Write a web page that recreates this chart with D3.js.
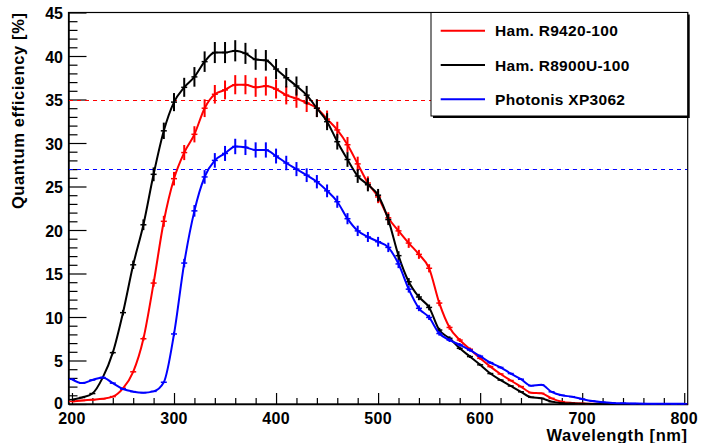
<!DOCTYPE html>
<html>
<head>
<meta charset="utf-8">
<script src="https://cdn.jsdelivr.net/npm/d3@7"></script>
<style>
body { margin:0; background:#fff; }
text { font-family:"Liberation Sans", Arial, Helvetica, sans-serif; font-weight:bold; }
</style>
</head>
<body>
<div id="chart"></div>
<script>
// wavelengths [nm], one point every 10 nm
var wavelength = d3.range(200, 801, 10);

// quantum efficiency [%]
var qeR9420 = [0.3,0.4,0.5,0.6,0.85,1.8,3.7,7.5,13.9,21.0,
  25.9,28.9,31.0,34.0,35.6,36.1,36.7,36.7,36.4,36.55,
  36.2,35.5,35.1,34.6,34.0,32.75,31.5,29.8,27.6,25.4,
  23.8,21.4,19.9,18.5,17.2,15.6,11.6,8.8,7.35,6.3,
  5.25,4.3,3.45,2.7,2.0,1.3,1.23,0.65,0.27,0.12,
  0.06,0.03,0.02,0.01,0.01,0.01,0,0,0,0,0];
var qeR8900U = [0.5,0.75,1.2,3.0,5.9,10.5,16.0,20.6,26.4,31.4,
  34.7,36.4,37.6,39.35,40.4,40.4,40.6,40.3,39.6,39.5,
  38.5,37.5,36.55,35.5,34.0,32.45,30.15,28.1,26.2,25.2,
  24.0,21.2,17.05,14.05,12.3,11.1,8.5,7.55,6.4,5.45,
  4.5,3.5,2.75,2.07,1.4,0.77,0.65,0.27,0.1,0.05,
  0.02,0.01,0.01,0,0,0,0,0,0,0,0];
var qeXP3062 = [2.84,2.4,2.76,3.05,2.4,1.72,1.42,1.3,1.45,2.5,
  8.05,16.2,22.2,26.1,28.0,28.8,29.6,29.5,29.2,29.2,
  28.5,27.7,27.0,26.3,25.55,24.5,23.25,21.3,19.9,19.2,
  18.65,18.0,16.1,13.2,11.0,9.95,8.1,7.35,6.8,6.2,
  5.5,4.75,4.2,3.5,2.85,2.1,2.2,1.4,1.0,0.84,
  0.57,0.34,0.2,0.12,0.08,0.05,0.04,0.03,0.03,0.02,0.02];
var relErr = 0.03;   // error bars ~3% of value

var series = [
  { name:'Ham. R9420-100',  color:'#ff0000', qe:qeR9420,  ref:35 },
  { name:'Ham. R8900U-100', color:'#000000', qe:qeR8900U },
  { name:'Photonis XP3062', color:'#0000ff', qe:qeXP3062, ref:27 }
];

var xTicks = [200,300,400,500,600,700,800];
var yTicks = [0,5,10,15,20,25,30,35,40,45];

var W = 701, H = 443;
var fx0 = 68.5, fx1 = 687.7, fy0 = 12.5, fy1 = 404;

var svg = d3.select('#chart').append('svg').attr('width',W).attr('height',H);

var x = d3.scaleLinear().domain([196.6, 803.4]).range([fx0, fx1]);
var y = d3.scaleLinear().domain([0, 45]).range([fy1, fy0]);

// frame
svg.append('rect').attr('x',fx0).attr('y',fy0).attr('width',fx1-fx0).attr('height',fy1-fy0)
  .style('fill','none').style('stroke','#000').style('stroke-width',1.2);

// y axis ticks (inside the frame)
var yAx = d3.axisRight(y).tickValues(d3.range(0,46,1)).tickFormat('')
  .tickSize(9).tickSizeOuter(0);
svg.append('g').attr('transform','translate('+fx0+',0)').call(yAx)
  .call(g => g.select('.domain').attr('stroke-width',1.5))
  .call(g => g.selectAll('.tick line').attr('stroke-width',1.2)
    .attr('x2',d => (d%5==0)?18:9));
svg.selectAll('.ylab').data(yTicks).enter().append('text')
  .attr('x',63).attr('y',d => (d==0) ? y(d)-1 : y(d)+1).attr('dy','0.36em')
  .attr('text-anchor','end').style('font-size','16px').text(d => d);

// x axis ticks
var xAx = d3.axisTop(x).tickValues(d3.range(200,801,20)).tickFormat('')
  .tickSize(6).tickSizeOuter(0);
svg.append('g').attr('transform','translate(0,'+fy1+')').call(xAx)
  .call(g => g.select('.domain').attr('stroke-width',1.5))
  .call(g => g.selectAll('.tick line').attr('stroke-width',1.2)
    .attr('y2',d => (d%100==0)?-11:-6));
svg.selectAll('.xlab').data(xTicks).enter().append('text')
  .attr('x',d => x(d)).attr('y',424)
  .attr('text-anchor','middle').style('font-size','16px').style('letter-spacing','0.3px').text(d => d);

// axis titles
svg.append('text').attr('text-anchor','end').attr('transform','translate(24,'+fy0+') rotate(-90)')
  .style('font-size','16.5px').style('letter-spacing','0.6px').text('Quantum efficiency [%]');
svg.append('text').attr('text-anchor','end').attr('x',fx1).attr('y',441)
  .style('font-size','16.5px').style('letter-spacing','0.6px').text('Wavelength [nm]');

// reference dashed lines
series.filter(s => s.ref).forEach(function(s) {
  var yy = Math.round(y(s.ref)) + 0.5;
  svg.append('line').attr('x1',69).attr('x2',687).attr('y1',yy).attr('y2',yy)
    .style('stroke',s.color).style('stroke-width',1.1).style('stroke-dasharray','4,4');
});

// curves with error bars
var line = d3.line().curve(d3.curveMonotoneX)
  .x((d,i) => x(wavelength[i])).y(d => y(d));

series.forEach(function(s) {
  var g = svg.append('g');
  g.append('path').datum(s.qe).attr('d',line)
    .style('fill','none').style('stroke',s.color).style('stroke-width',2);
  var pts = g.selectAll('g.pt').data(s.qe).enter().append('g');
  pts.append('line')
    .attr('x1',(d,i) => x(wavelength[i])).attr('x2',(d,i) => x(wavelength[i]))
    .attr('y1',d => y(d*(1+relErr))).attr('y2',d => y(d*(1-relErr)))
    .style('stroke',s.color).style('stroke-width',2);
  pts.append('line')
    .attr('x1',(d,i) => x(wavelength[i])-3).attr('x2',(d,i) => x(wavelength[i])+3)
    .attr('y1',d => y(d)).attr('y2',d => y(d))
    .style('stroke',s.color).style('stroke-width',1.5);
});

// legend
var lx0 = 431, ly0 = fy0, lx1 = fx1, ly1 = 116;
svg.append('rect').attr('x',lx0+2).attr('y',ly0+2).attr('width',lx1-lx0).attr('height',ly1-ly0)
  .style('fill','#000');
svg.append('rect').attr('x',lx0).attr('y',ly0).attr('width',lx1-lx0).attr('height',ly1-ly0)
  .style('fill','#fff').style('stroke','#000').style('stroke-width',1);
var leg = svg.selectAll('g.leg').data(series).enter().append('g')
  .attr('transform',(d,i) => 'translate(0,'+(30.7+i*34.3)+')');
leg.append('line').attr('x1',440.7).attr('x2',485).attr('y1',0).attr('y2',0)
  .style('stroke',d => d.color).style('stroke-width',2);
leg.append('text').attr('x',495).attr('y',0).attr('dy','0.36em')
  .style('font-size','15.5px').style('letter-spacing','0.3px').text(d => d.name);
</script>
</body>
</html>
